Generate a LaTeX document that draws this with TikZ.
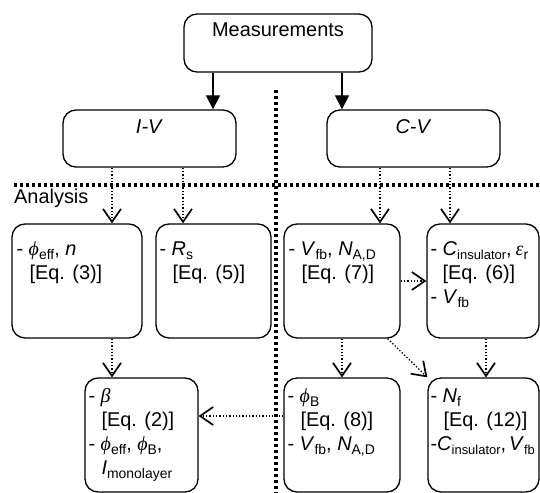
\documentclass[tikz,border=0pt]{standalone}
\usepackage{fontspec}
\setmainfont{Liberation Sans}
\newfontfamily\grkfont{Liberation Serif}
\usetikzlibrary{arrows.meta,calc}

% italic Greek letter, lowered subscript, hanging indent
\newcommand{\gr}[1]{{\grkfont\itshape #1}}
\newcommand{\sbs}[1]{\raisebox{-4bp}{\fontsize{14}{14}\selectfont #1}}
\newcommand{\sbn}[1]{\raisebox{-4bp}{\fontsize{13}{13}\selectfont #1}}
\newcommand{\ind}{\hspace*{13bp}}
\newcommand{\firstline}{\rule{0pt}{16bp}}

\tikzset{
  box/.style={draw, line width=1.3bp, rounded corners=13bp, inner sep=0pt},
  lbl/.style={inner sep=0pt, font=\fontsize{20}{24}\selectfont},
  txt/.style={anchor=north west, align=left, inner sep=0pt,
              font=\fontsize{20}{24}\selectfont},
  solidarrow/.style={line width=1.3bp, -{Triangle[length=14bp,width=14bp]}},
  dotarrow/.style={line width=1.3bp, dash pattern=on 1.3bp off 2bp,
                   -{Straight Barb[length=13bp,width=18bp,line width=1.7bp]}},
  divider/.style={line width=3.2bp, dash pattern=on 3.2bp off 2.8bp}
}

\begin{document}
\begin{tikzpicture}[x=1bp,y=-1bp]
\useasboundingbox (0,0) rectangle (540,493);

% section dividers
\draw[divider] (276,90) -- (276,493);
\draw[divider] (14,185) -- (540,185);
\node[lbl, anchor=west] (analysis) at (14,198) {Analysis};

% measurement level
\node[box, minimum width=188bp, minimum height=58bp] (meas) at (278,43) {};
\node[lbl] (meastxt) at (278,30) {Measurements};
\node[box, minimum width=173bp, minimum height=57bp] (iv) at (149.5,138.5) {};
\node[lbl] (ivtxt) at (149.5,127) {\textit{I-V}};
\node[box, minimum width=173bp, minimum height=57bp] (cv) at (413.5,138.5) {};
\node[lbl] (cvtxt) at (413.5,127) {\textit{C-V}};

% analysis boxes, first row
\node[box, minimum width=130bp, minimum height=114bp] (b1) at (77,281) {};
\node[box, minimum width=115bp, minimum height=114bp] (b2) at (213.5,281) {};
\node[box, minimum width=116bp, minimum height=114bp] (b3) at (342,281) {};
\node[box, minimum width=112bp, minimum height=114bp] (b4) at (483,281) {};

% analysis boxes, second row
\node[box, minimum width=113bp, minimum height=114bp] (b5) at (141.5,435) {};
\node[box, minimum width=116bp, minimum height=114bp] (b6) at (342,435) {};
\node[box, minimum width=111bp, minimum height=114bp] (b7) at (483.5,435) {};

% box contents
\node[txt] (t1) at ($(b1.north west)+(5,16)$)
  {\firstline- \gr{ϕ}\sbs{eff}, \textit{n}\\ \ind[Eq. (3)]};
\node[txt] (t2) at ($(b2.north west)+(4,16)$)
  {\firstline- \textit{R}\sbs{s}\\ \ind[Eq. (5)]};
\node[txt] (t3) at ($(b3.north west)+(5,16)$)
  {\firstline- \textit{V}\sbs{fb}, \textit{N}\sbs{A,D}\\ \ind[Eq. (7)]};
\node[txt] (t4) at ($(b4.north west)+(4,16)$)
  {\firstline- \textit{C}\sbn{insulator},\hspace{4bp}\gr{ε}\sbs{r}\\ \hspace*{12bp}[Eq. (6)]\\ - \textit{V}\sbs{fb}};
\node[txt] (t5) at ($(b5.north west)+(4,9)$)
  {\firstline- \gr{β}\\ \ind[Eq. (2)]\\ - \gr{ϕ}\sbs{eff}, \gr{ϕ}\sbs{B},\\ \ind\textit{I}\sbs{monolayer}};
\node[txt] (t6) at ($(b6.north west)+(4,9)$)
  {\firstline- \gr{ϕ}\sbs{B}\\ \ind[Eq. (8)]\\ - \textit{V}\sbs{fb}, \textit{N}\sbs{A,D}};
\node[txt] (t7) at ($(b7.north west)+(3,9)$)
  {\firstline- \textit{N}\sbs{f}\\ \ind[Eq. (12)]\\ -\textit{C}\sbn{insulator},\hspace{3bp}\textit{V}\sbn{fb}};

% arrow columns
\coordinate (xa) at (213,0);
\coordinate (xb) at (342,0);
\coordinate (c1) at (112,0);
\coordinate (c2) at (183,0);
\coordinate (c3) at (380,0);
\coordinate (c4) at (450,0);
\coordinate (c5) at (486,0);
\coordinate (r1) at (0,416);

% measurement arrows
\draw[solidarrow] (xa |- meas.south) -- (xa |- iv.north);
\draw[solidarrow] (xb |- meas.south) -- (xb |- cv.north);

% analysis arrows
\draw[dotarrow] (c1 |- iv.south) -- (c1 |- b1.north);
\draw[dotarrow] (c2 |- iv.south) -- (c2 |- b2.north);
\draw[dotarrow] (c3 |- cv.south) -- (c3 |- b3.north);
\draw[dotarrow] (c4 |- cv.south) -- (c4 |- b4.north);
\draw[dotarrow] (c1 |- b1.south) -- (c1 |- b5.north);
\draw[dotarrow] (b3.south) -- (b6.north);
\draw[dotarrow] (c5 |- b4.south) -- (c5 |- b7.north);
\draw[dotarrow] (b3.east) -- (b4.west);
\draw[dotarrow] ($(b3.south east)+(-13,0)$) -- (b7.north west);
\draw[dotarrow] (r1 -| b6.west) -- (r1 -| b5.east);
\end{tikzpicture}
\end{document}
